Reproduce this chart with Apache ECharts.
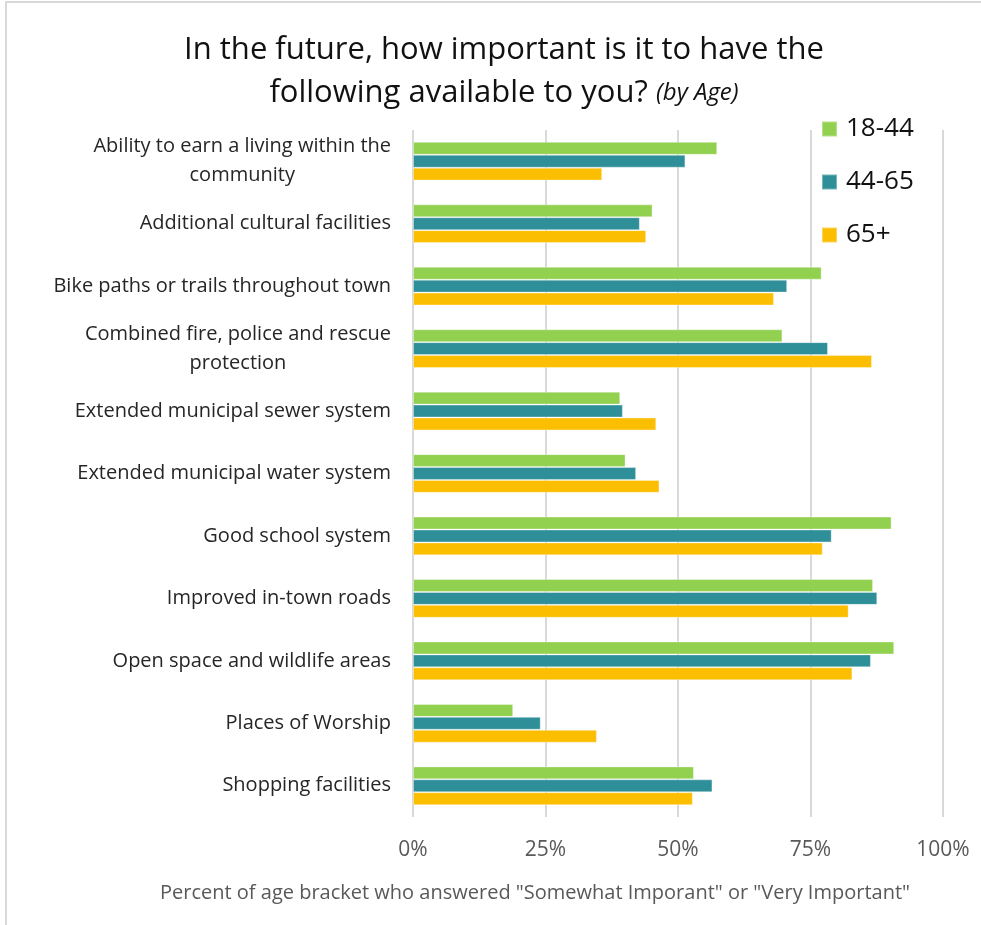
<!DOCTYPE html>
<html>
<head>
<meta charset="utf-8">
<script src="https://cdn.jsdelivr.net/npm/echarts@6/dist/echarts.min.js"></script>
<style>
html,body{margin:0;padding:0;background:#fff;}
#chart{width:981px;height:925px;}
</style>
</head>
<body>
<div id="chart"></div>
<script>
const categories = [
  'Ability to earn a living within the\ncommunity',
  'Additional cultural facilities',
  'Bike paths or trails throughout town',
  'Combined fire, police and rescue\nprotection',
  'Extended municipal sewer system',
  'Extended municipal water system',
  'Good school system',
  'Improved in-town roads',
  'Open space and wildlife areas',
  'Places of Worship',
  'Shopping facilities'
];
const seriesNames = ['18-44', '44-65', '65+'];
const age18to44 = [57.4, 45.2, 77.1, 69.7, 39.1, 40.1, 90.3, 86.8, 90.8, 18.9, 53.0];
const age44to65 = [51.4, 42.8, 70.6, 78.3, 39.6, 42.1, 79.0, 87.6, 86.4, 24.1, 56.5];
const age65plus = [35.7, 44.0, 68.1, 86.6, 45.9, 46.5, 77.3, 82.2, 82.9, 34.7, 52.8];
const tickValues = [0, 25, 50, 75, 100];

const colors = ['#92D050', '#2F8F98', '#FBBE00'];
const FONT = 'Open Sans';

const chart = echarts.init(document.getElementById('chart'), null, {renderer: 'canvas'});
const seriesData = [age18to44, age44to65, age65plus];

chart.setOption({
  animation: false,
  backgroundColor: '#fff',
  color: colors,
  graphic: [{
    type: 'rect',
    shape: {x: 6, y: 2, width: 1100, height: 1100},
    style: {fill: 'none', stroke: '#d9d9d9', lineWidth: 2},
    silent: true
  }],
  title: {
    text: 'In the future, how important is it to have the\nfollowing available to you? {i|(by Age)}',
    left: 499,
    textAlign: 'center',
    top: 24,
    textStyle: {
      fontFamily: FONT,
      fontSize: 31,
      fontWeight: 'normal',
      color: '#111',
      lineHeight: 43,
      rich: {
        i: {fontFamily: FONT, fontSize: 24, fontStyle: 'italic', color: '#111', lineHeight: 43}
      }
    }
  },
  legend: {
    orient: 'vertical',
    left: 821,
    top: 116,
    padding: 0,
    itemWidth: 15,
    itemHeight: 15,
    itemGap: 27,
    icon: 'rect',
    textStyle: {fontFamily: FONT, fontSize: 26, color: '#111', padding: [0, 0, 0, 4]},
    data: seriesNames
  },
  grid: {left: 413, right: 38, top: 130, bottom: 108, containLabel: false},
  xAxis: {
    type: 'value',
    min: 0,
    max: 100,
    interval: 25,
    axisLine: {show: false},
    axisTick: {show: false},
    splitLine: {show: true, lineStyle: {color: '#d9d9d9', width: 2}},
    axisLabel: {
      fontFamily: FONT,
      fontSize: 21,
      color: '#595959',
      margin: 23,
      formatter: v => tickValues.includes(v) ? v + '%' : ''
    },
    name: 'Percent of age bracket who answered "Somewhat Imporant" or "Very Important"',
    nameLocation: 'middle',
    nameGap: 66,
    nameTextStyle: {fontFamily: FONT, fontSize: 20, color: '#595959', padding: [0, 286, 0, 0]}
  },
  yAxis: {
    type: 'category',
    inverse: true,
    data: categories,
    axisLine: {show: false},
    axisTick: {show: false},
    axisLabel: {
      margin: 22,
      fontFamily: FONT,
      fontSize: 20,
      color: '#262626',
      lineHeight: 29,
      formatter: v => '{c|' + v + '}',
      rich: {
        c: {fontFamily: FONT, fontSize: 20, color: '#262626', lineHeight: 29, align: 'center'}
      }
    }
  },
  series: seriesNames.map((name, i) => ({
    name: name,
    type: 'bar',
    data: seriesData[i],
    barGap: '0%',
    barCategoryGap: '38%',
    itemStyle: {color: colors[i], borderColor: 'rgba(255,255,255,0.35)', borderWidth: 1}
  }))
});
</script>
</body>
</html>
